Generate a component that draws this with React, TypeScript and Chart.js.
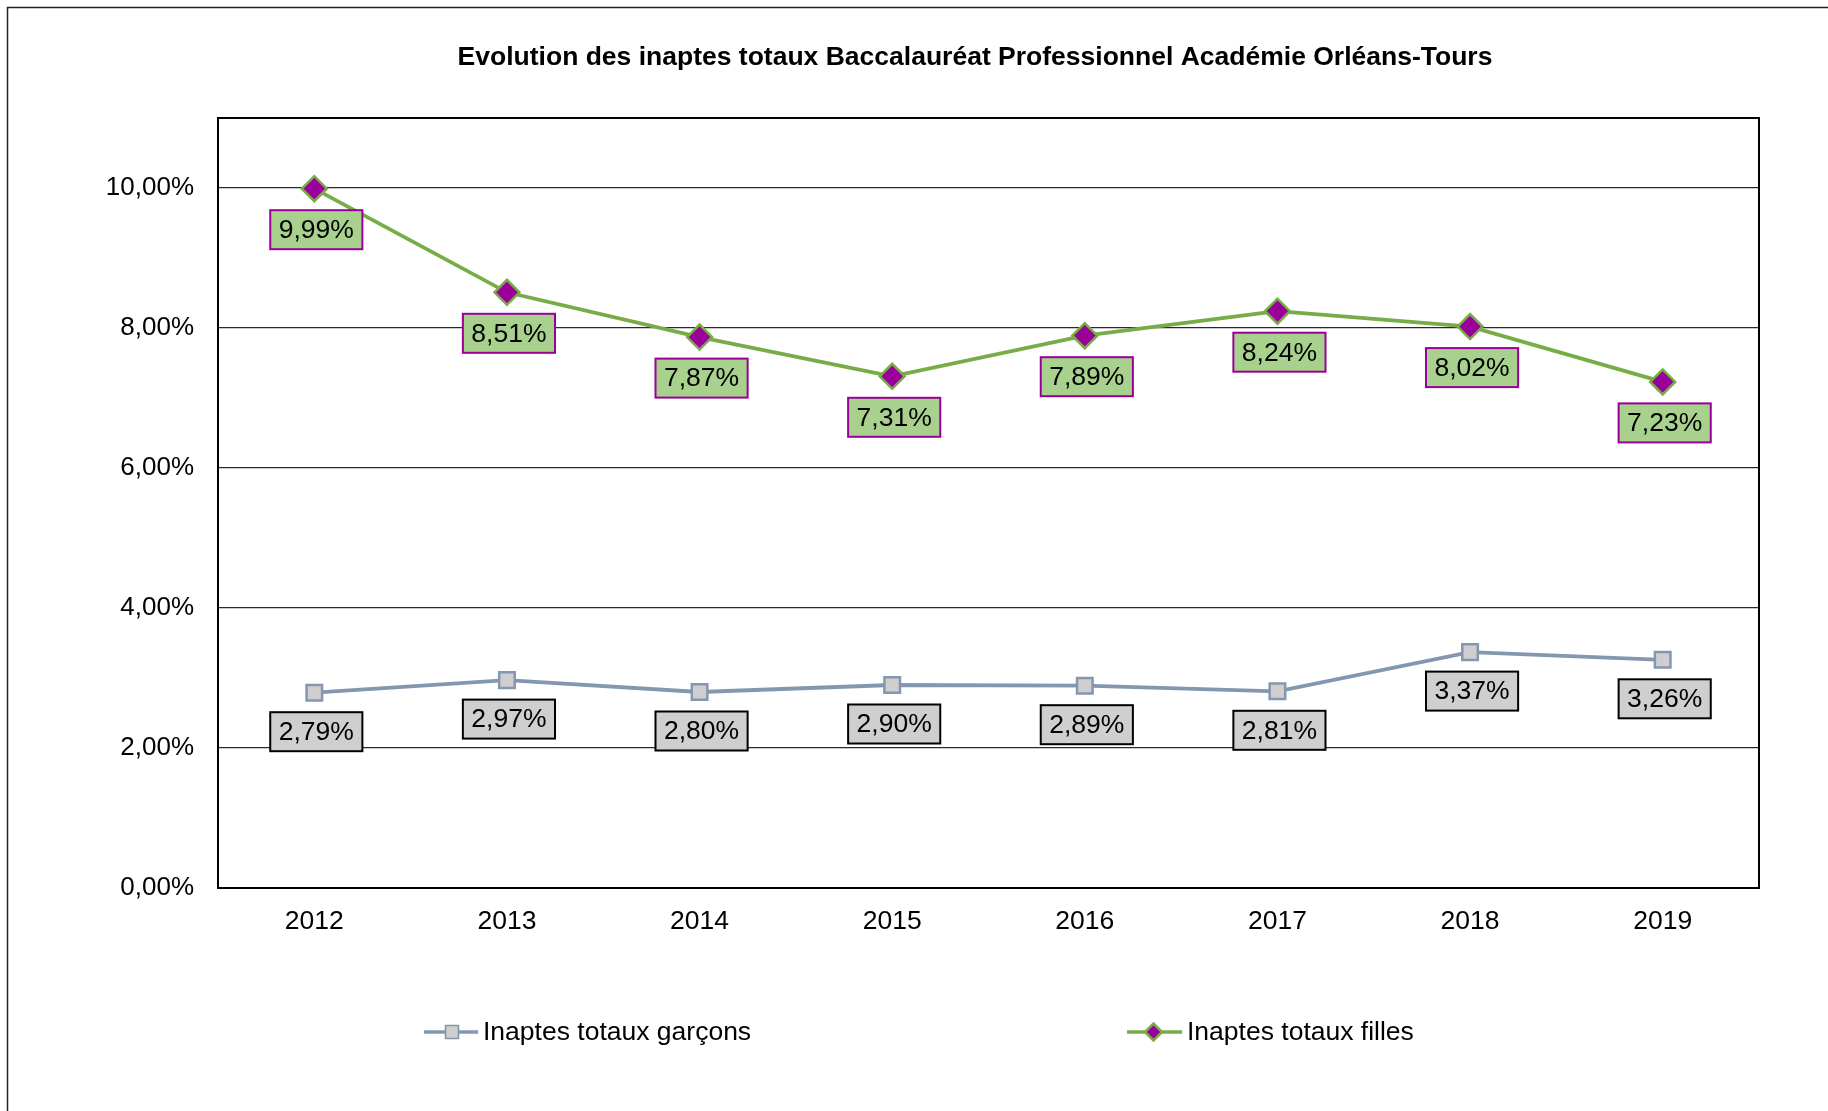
import React, { useEffect, useRef } from "react";
import { Chart, registerables } from "chart.js";

Chart.register(...registerables);

const categories = ["2012", "2013", "2014", "2015", "2016", "2017", "2018", "2019"];
const garconsValues = [2.79, 2.97, 2.8, 2.9, 2.89, 2.81, 3.37, 3.26];
const fillesValues = [9.99, 8.51, 7.87, 7.31, 7.89, 8.24, 8.02, 7.23];
const yTickValues = [0, 2, 4, 6, 8, 10];
const seriesNames = ["Inaptes totaux garçons", "Inaptes totaux filles"];
const chartTitle = "Evolution des inaptes totaux Baccalauréat Professionnel Académie Orléans-Tours";

const FONT = "'Liberation Sans', Arial, Helvetica, sans-serif";
const W = 1828;
const H = 1111;

const GARCONS_LINE = "#8497B0";
const GARCONS_FILL = "#D0CECE";
const FILLES_LINE = "#77AD47";
const FILLES_MARK = "#990099";
const FILLES_LABEL = "#A9D18E";

const fmt = (v: number) => v.toFixed(2).replace(".", ",") + "%";

const decorPlugin = {
  id: "decor",
  beforeDraw(chart: any) {
    const ctx = chart.ctx;
    ctx.save();
    ctx.fillStyle = "#ffffff";
    ctx.fillRect(0, 0, chart.width, chart.height);
    ctx.strokeStyle = "#222222";
    ctx.lineWidth = 1.5;
    ctx.strokeRect(7.5, 7.5, chart.width + 100, chart.height + 100);
    ctx.fillStyle = "#000000";
    ctx.font = `bold 26.5px ${FONT}`;
    ctx.textAlign = "center";
    ctx.textBaseline = "middle";
    ctx.fillText(chartTitle, 975, 58);
    ctx.restore();
  },
  beforeDatasetsDraw(chart: any) {
    const { ctx, chartArea } = chart;
    ctx.save();
    ctx.strokeStyle = "#000000";
    ctx.lineWidth = 2;
    ctx.strokeRect(chartArea.left, chartArea.top, chartArea.right - chartArea.left, chartArea.bottom - chartArea.top);
    ctx.restore();
  },
  afterDatasetsDraw(chart: any) {
    const ctx = chart.ctx;
    ctx.save();
    ctx.font = `26.5px ${FONT}`;
    ctx.textAlign = "center";
    ctx.textBaseline = "middle";
    chart.data.datasets.forEach((ds: any, i: number) => {
      const meta = chart.getDatasetMeta(i);
      const isFilles = i === 1;
      meta.data.forEach((el: any, j: number) => {
        const text = fmt(ds.data[j]);
        const tw = ctx.measureText(text).width;
        const bw = tw + 17;
        const bh = 39;
        const cx = el.x + 2;
        const cy = el.y + (isFilles ? 41 : 39);
        ctx.fillStyle = isFilles ? FILLES_LABEL : GARCONS_FILL;
        ctx.fillRect(cx - bw / 2, cy - bh / 2, bw, bh);
        ctx.strokeStyle = isFilles ? FILLES_MARK : "#000000";
        ctx.lineWidth = 2;
        ctx.strokeRect(cx - bw / 2, cy - bh / 2, bw, bh);
        ctx.fillStyle = "#000000";
        ctx.fillText(text, cx, cy + 1);
      });
    });
    ctx.restore();
  },
  afterDraw(chart: any) {
    const ctx = chart.ctx;
    ctx.save();
    const y = 1032;
    ctx.strokeStyle = GARCONS_LINE;
    ctx.lineWidth = 3.5;
    ctx.beginPath();
    ctx.moveTo(424, y);
    ctx.lineTo(478, y);
    ctx.stroke();
    ctx.fillStyle = GARCONS_FILL;
    ctx.fillRect(445.5, y - 6.5, 13, 13);
    ctx.lineWidth = 1.5;
    ctx.strokeRect(445.5, y - 6.5, 13, 13);
    ctx.strokeStyle = FILLES_LINE;
    ctx.lineWidth = 3.5;
    ctx.beginPath();
    ctx.moveTo(1127, y);
    ctx.lineTo(1182, y);
    ctx.stroke();
    const dx = 1153.5;
    const r = 8.5;
    ctx.beginPath();
    ctx.moveTo(dx, y - r);
    ctx.lineTo(dx + r, y);
    ctx.lineTo(dx, y + r);
    ctx.lineTo(dx - r, y);
    ctx.closePath();
    ctx.fillStyle = FILLES_MARK;
    ctx.fill();
    ctx.lineWidth = 2.5;
    ctx.stroke();
    ctx.fillStyle = "#000000";
    ctx.font = `26.5px ${FONT}`;
    ctx.textAlign = "left";
    ctx.textBaseline = "middle";
    ctx.fillText(seriesNames[0], 483, y + 1);
    ctx.fillText(seriesNames[1], 1187, y + 1);
    ctx.restore();
  },
};

export default function App() {
  const ref = useRef<HTMLCanvasElement | null>(null);

  useEffect(() => {
    if (!ref.current) return;
    const chart = new Chart(ref.current, {
      type: "line",
      data: {
        labels: categories,
        datasets: [
          {
            label: seriesNames[0],
            data: garconsValues,
            borderColor: GARCONS_LINE,
            borderWidth: 3.8,
            pointStyle: "rect",
            pointRadius: 11,
            pointHoverRadius: 11,
            pointBackgroundColor: GARCONS_FILL,
            pointBorderColor: GARCONS_LINE,
            pointBorderWidth: 2.5,
            tension: 0,
          },
          {
            label: seriesNames[1],
            data: fillesValues,
            borderColor: FILLES_LINE,
            borderWidth: 3.8,
            pointStyle: "rectRot",
            pointRadius: 12.5,
            pointHoverRadius: 12.5,
            pointBackgroundColor: FILLES_MARK,
            pointBorderColor: FILLES_LINE,
            pointBorderWidth: 2.5,
            tension: 0,
          },
        ],
      },
      options: {
        responsive: false,
        animation: false,
        events: [],
        layout: { padding: { left: 0, top: 118, right: 69, bottom: 0 } },
        plugins: {
          legend: { display: false },
          title: { display: false },
          tooltip: { enabled: false },
        },
        scales: {
          x: {
            type: "category",
            offset: true,
            grid: { display: false, drawTicks: false },
            border: { display: false },
            ticks: {
              color: "#000000",
              font: { family: FONT, size: 26.5 },
              padding: 18,
              maxRotation: 0,
              autoSkip: false,
            },
            afterFit: (scale: any) => {
              scale.height = 223;
            },
          },
          y: {
            min: 0,
            max: 11,
            grid: { color: "#2a2a2a", lineWidth: 1.3, drawTicks: false },
            border: { display: false },
            ticks: {
              color: "#000000",
              font: { family: FONT, size: 26 },
              padding: 24,
              callback: (v: any) => fmt(Number(v)),
            },
            afterBuildTicks: (scale: any) => {
              scale.ticks = yTickValues.map((v) => ({ value: v }));
            },
            afterFit: (scale: any) => {
              scale.width = 218;
            },
          },
        },
      },
      plugins: [decorPlugin],
    });
    return () => chart.destroy();
  }, []);

  return (
    <div style={{ position: "absolute", left: 0, top: 0, width: W, height: H, background: "#fff" }}>
      <canvas ref={ref} width={W} height={H} style={{ display: "block", width: W, height: H }} />
    </div>
  );
}
